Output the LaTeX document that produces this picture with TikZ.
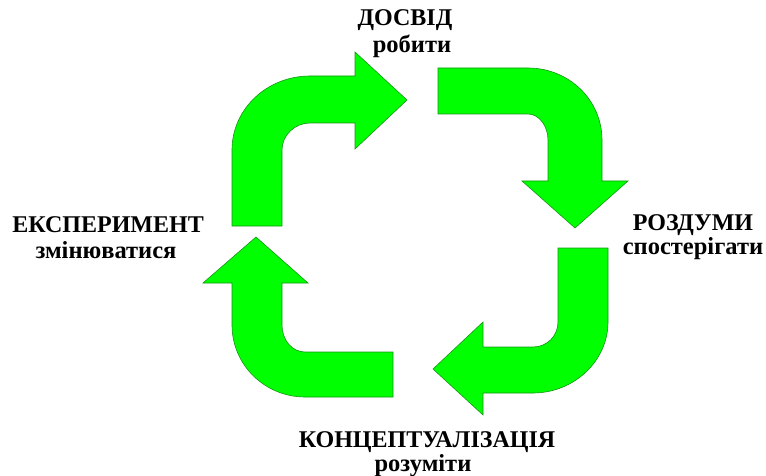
\documentclass[tikz,border=0pt]{standalone}
\usepackage{fontspec}
\setmainfont{Liberation Serif}
\newfontfamily\timesfont{Liberation Serif}
\definecolor{arrowfill}{RGB}{0,255,0}
\definecolor{arrowline}{RGB}{20,150,20}
\begin{document}
\begin{tikzpicture}[x=1pt,y=-1pt,
  bent/.style={fill=arrowfill,draw=arrowline,line width=0.6pt,line join=miter},
  head/.style={font=\timesfont\bfseries\fontsize{24}{26}\selectfont,inner sep=0pt,anchor=base},
  sub/.style={font=\timesfont\bfseries\fontsize{24.5}{26}\selectfont,inner sep=0pt,anchor=base}]
\useasboundingbox (0,0) rectangle (766,476);
% arrow 1: up then right
\path[bent] (232,226) -- (232,150) .. controls (232,109) and (267,76) .. (310,76)
  -- (355,76) -- (355,52) -- (407,100) -- (355,149) -- (355,123) -- (310,123)
  .. controls (295,123) and (282,135) .. (282,150) -- (282,226) -- cycle;
% arrow 2: right then down
\path[bent] (438,68) -- (528,68) .. controls (569,68) and (602,100) .. (602,140)
  -- (602,181) -- (628,181) -- (575,228) -- (522,181) -- (548,181) -- (548,140)
  .. controls (548,126) and (539,114) .. (528,114) -- (438,114) -- cycle;
% arrow 3: down then left
\path[bent] (558,248) -- (608,248) -- (608,322) .. controls (608,361) and (574,393) .. (533,393)
  -- (483,393) -- (483,415) -- (433,369) -- (483,322) -- (483,347) -- (533,347)
  .. controls (547,347) and (558,336) .. (558,322) -- cycle;
% arrow 4: left then up
\path[bent] (393,352) -- (393,397) -- (305,397) .. controls (265,397) and (232,365) .. (232,325)
  -- (232,283) -- (203,283) -- (256,237) -- (308,283) -- (282,283) -- (282,325)
  .. controls (282,340) and (292,352) .. (305,352) -- cycle;
% labels
\node[head] (dosvid) at (405,26) {ДОСВІД};
\node[sub]  (robyty) at (412,53) {робити};
\node[head] (rozdumy) at (693,230) {РОЗДУМИ};
\node[sub]  (sposter) at (693,254) {спостерігати};
\node[head] (koncept) at (427,447) {КОНЦЕПТУАЛІЗАЦІЯ};
\node[sub]  (rozum) at (423,471) {розуміти};
\node[head] (eksper) at (108,233) {ЕКСПЕРИМЕНТ};
\node[sub]  (zminyu) at (106,258) {змінюватися};
\end{tikzpicture}
\end{document}
